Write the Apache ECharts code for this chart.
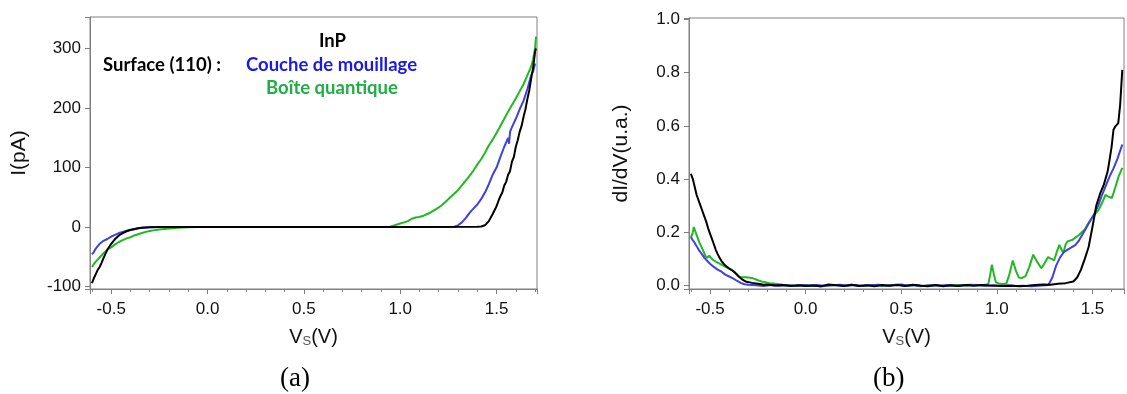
<!DOCTYPE html>
<html><head><meta charset="utf-8">
<script src="https://cdn.jsdelivr.net/npm/echarts@6/dist/echarts.min.js"></script>
<style>html,body{margin:0;padding:0;background:#fff;}#c{width:1127px;height:394px;}</style>
</head><body><div id="c"></div>
<script>
// ---------- Panel (a): I(V) ----------
const aBlackV = [-0.60,-0.59,-0.58,-0.57,-0.56,-0.55,-0.54,-0.53,-0.52,-0.50,-0.48,-0.46,-0.44,-0.42,-0.40,-0.38,-0.36,-0.34,-0.32,-0.30,-0.25,0.0,0.5,1.0,1.40,1.42,1.44,1.46,1.48,1.50,1.51,1.52,1.53,1.54,1.55,1.56,1.57,1.58,1.59,1.60,1.61,1.62,1.63,1.64,1.65,1.66,1.67,1.68,1.69,1.70,1.705];
const aBlackI = [-94,-86,-79,-72,-67,-60,-52,-45,-38,-28,-20,-14,-10,-7,-5,-3.5,-2,-1.2,-0.6,-0.3,0,0,0,0,0.5,1,3,10,22,35,44,52,58,70,76,88,94,110,118,135,146,160,170,185,198,215,230,250,268,295,300];
const aBlueV = [-0.60,-0.59,-0.58,-0.57,-0.56,-0.54,-0.52,-0.50,-0.48,-0.46,-0.44,-0.42,-0.40,-0.38,-0.36,-0.34,-0.30,-0.25,0.0,0.5,1.0,1.26,1.28,1.30,1.32,1.34,1.36,1.38,1.40,1.42,1.44,1.46,1.48,1.50,1.52,1.54,1.56,1.565,1.57,1.58,1.60,1.62,1.64,1.66,1.68,1.69,1.70];
const aBlueI = [-46,-42,-36,-32,-28,-23,-20,-16,-13,-10,-8,-6,-4.5,-3,-1.8,-1,-0.3,0,0,0,0,0,0.5,3,8,15,24,31,38,47,58,72,88,100,118,135,150,140,160,168,182,198,212,232,255,262,275];
const aGreenV = [-0.60,-0.59,-0.58,-0.57,-0.56,-0.54,-0.52,-0.50,-0.48,-0.46,-0.44,-0.42,-0.40,-0.38,-0.36,-0.34,-0.32,-0.30,-0.28,-0.26,-0.24,-0.22,-0.20,-0.18,-0.15,-0.10,-0.05,0.5,0.94,0.96,0.98,1.00,1.02,1.04,1.06,1.08,1.10,1.12,1.14,1.16,1.18,1.20,1.22,1.24,1.26,1.28,1.30,1.32,1.34,1.36,1.38,1.40,1.42,1.44,1.46,1.48,1.50,1.52,1.54,1.56,1.58,1.60,1.62,1.64,1.66,1.68,1.69,1.70,1.705];
const aGreenI = [-67,-62,-58,-55,-51,-44,-38,-34,-29,-25,-22,-19,-17,-14,-12,-10,-8,-6.5,-5.5,-4.5,-3.5,-3,-2.5,-1.8,-1,-0.4,0,0,0,2,4,6,8,10,14,16,17,19,22,25,29,33,38,44,50,56,62,70,78,86,95,105,114,125,137,147,158,170,182,194,205,216,228,240,255,270,282,300,320];

// ---------- Panel (b): dI/dV ----------
const bBlackV = [-0.60,-0.59,-0.58,-0.57,-0.56,-0.55,-0.54,-0.53,-0.52,-0.51,-0.50,-0.49,-0.48,-0.47,-0.46,-0.45,-0.44,-0.43,-0.42,-0.41,-0.40,-0.39,-0.38,-0.37,-0.36,-0.35,-0.34,-0.33,-0.32,-0.31,-0.30,-0.28,-0.26,-0.24,-0.22,-0.20,-0.18,-0.16,-0.12,-0.08,-0.04,0.00,0.04,0.08,0.12,0.16,0.20,0.24,0.28,0.32,0.36,0.40,0.44,0.48,0.52,0.56,0.60,0.64,0.68,0.72,0.76,0.80,0.84,0.88,0.92,0.96,1.00,1.04,1.08,1.12,1.16,1.20,1.24,1.28,1.32,1.36,1.40,1.42,1.44,1.46,1.48,1.50,1.52,1.54,1.56,1.58,1.60,1.61,1.62,1.635,1.645,1.656];
const bBlackD = [0.42,0.40,0.37,0.34,0.32,0.30,0.28,0.26,0.24,0.215,0.195,0.175,0.155,0.134,0.118,0.104,0.092,0.083,0.075,0.068,0.064,0.061,0.055,0.049,0.042,0.034,0.028,0.022,0.017,0.014,0.012,0.010,0.008,0.006,0.003,0.004,0.002,0.000,0.002,-0.002,0.001,-0.002,0.000,-0.003,0.004,0.001,-0.002,0.003,-0.002,0.001,-0.003,0.002,-0.001,0.002,-0.002,0.003,-0.001,-0.003,0.002,-0.003,0.001,-0.002,0.002,-0.001,0.002,0.000,-0.001,-0.002,-0.001,-0.003,-0.001,0.002,0.004,0.003,0.007,0.009,0.015,0.03,0.06,0.10,0.145,0.22,0.30,0.345,0.38,0.43,0.52,0.585,0.598,0.61,0.68,0.81];
const bBlueV = [-0.60,-0.59,-0.58,-0.57,-0.56,-0.55,-0.54,-0.53,-0.52,-0.51,-0.50,-0.49,-0.48,-0.47,-0.46,-0.45,-0.44,-0.43,-0.42,-0.41,-0.40,-0.39,-0.38,-0.37,-0.36,-0.35,-0.34,-0.33,-0.32,-0.30,-0.26,-0.22,-0.18,-0.14,-0.10,-0.06,-0.02,0.02,0.06,0.10,0.14,0.18,0.22,0.26,0.30,0.34,0.38,0.42,0.46,0.50,0.54,0.58,0.62,0.66,0.70,0.74,0.78,0.82,0.86,0.90,0.94,0.98,1.02,1.06,1.10,1.14,1.18,1.22,1.27,1.29,1.31,1.33,1.35,1.37,1.39,1.41,1.43,1.45,1.47,1.49,1.51,1.53,1.55,1.57,1.59,1.61,1.63,1.656];
const bBlueD = [0.182,0.17,0.16,0.148,0.135,0.125,0.115,0.105,0.097,0.09,0.082,0.076,0.07,0.065,0.06,0.056,0.052,0.047,0.041,0.037,0.034,0.03,0.027,0.023,0.018,0.014,0.01,0.007,0.005,0.003,0.001,-0.002,0.002,-0.001,0.001,-0.002,0.002,-0.001,0.002,-0.002,0.001,0.003,-0.001,0.002,-0.002,0.001,0.003,-0.001,0.002,0.004,-0.001,0.002,-0.002,0.001,-0.001,0.002,-0.002,0.001,0.003,0.002,-0.001,0.001,-0.002,0.001,-0.002,-0.001,-0.003,-0.001,0.002,0.03,0.075,0.105,0.125,0.135,0.143,0.152,0.17,0.195,0.22,0.245,0.27,0.30,0.34,0.375,0.41,0.44,0.475,0.53];
const bGreenV = [-0.60,-0.59,-0.585,-0.575,-0.565,-0.555,-0.545,-0.535,-0.525,-0.515,-0.505,-0.495,-0.485,-0.47,-0.45,-0.43,-0.41,-0.39,-0.37,-0.36,-0.35,-0.34,-0.33,-0.31,-0.29,-0.27,-0.25,-0.23,-0.21,-0.19,-0.17,-0.15,-0.12,-0.08,-0.04,0.00,0.04,0.08,0.12,0.16,0.20,0.24,0.28,0.32,0.36,0.40,0.44,0.48,0.52,0.56,0.60,0.64,0.68,0.72,0.76,0.80,0.84,0.88,0.92,0.955,0.965,0.974,0.985,0.995,1.01,1.03,1.05,1.065,1.083,1.10,1.115,1.13,1.15,1.17,1.19,1.21,1.233,1.25,1.268,1.285,1.30,1.315,1.327,1.338,1.348,1.36,1.37,1.38,1.396,1.41,1.43,1.448,1.46,1.475,1.49,1.51,1.533,1.55,1.568,1.58,1.602,1.62,1.637,1.656];
const bGreenD = [0.18,0.20,0.22,0.215,0.18,0.16,0.145,0.13,0.112,0.104,0.112,0.105,0.097,0.09,0.082,0.075,0.067,0.06,0.05,0.04,0.034,0.031,0.032,0.031,0.029,0.026,0.02,0.015,0.012,0.009,0.008,0.006,0.003,0.001,-0.002,0.002,0.000,-0.004,0.001,0.002,-0.001,0.003,-0.002,0.001,0.002,-0.002,0.001,0.003,-0.001,0.002,-0.003,0.001,0.002,-0.002,0.001,0.002,-0.001,0.002,0.001,0.005,0.04,0.078,0.04,0.012,0.008,0.006,0.008,0.04,0.094,0.055,0.03,0.028,0.035,0.07,0.116,0.09,0.065,0.085,0.107,0.10,0.095,0.13,0.153,0.135,0.122,0.155,0.166,0.165,0.172,0.18,0.19,0.203,0.21,0.23,0.247,0.265,0.285,0.31,0.341,0.335,0.329,0.37,0.41,0.442];

const xTicks = [-0.5, 0.0, 0.5, 1.0, 1.5];

const BLACK = '#000000', BLUE = '#4040e0', GREEN = '#22b822';
const AX = '#808080';
const pair = (xs, ys) => xs.map((x, i) => [x, ys[i]]);

const near = (v, step) => Math.abs(v / step - Math.round(v / step)) < 1e-6;
function xAxisCfg(gi, min, max) {
  return {
    type: 'value', gridIndex: gi, min: min, max: max, splitNumber: 5,
    axisLine: { onZero: false, lineStyle: { color: AX, width: 1 } },
    axisTick: { show: true, length: 5, lineStyle: { color: AX } },
    minorTick: { show: true, splitNumber: 5, length: 3, lineStyle: { color: AX } },
    splitLine: { show: false },
    axisLabel: { color: '#111', fontSize: 17, fontFamily: 'Liberation Sans', margin: 12,
      formatter: v => (xTicks.some(t => Math.abs(t - v) < 1e-6) ? v.toFixed(1) : '') },
    name: '{a|V}{s|S}{a|(V)}', nameLocation: 'middle', nameGap: 37,
    nameTextStyle: { rich: {
      a: { fontSize: 20, fontFamily: 'Liberation Sans', color: '#111' },
      s: { fontSize: 13, fontFamily: 'Liberation Sans', color: '#555', padding: [9, 0, 0, 0] } } }
  };
}

const option = {
  animation: false,
  backgroundColor: '#fff',
  grid: [
    { left: 90, top: 17, width: 447, height: 272, show: true, borderColor: AX, borderWidth: 1, backgroundColor: 'transparent' },
    { left: 689, top: 18, width: 440, height: 271, show: true, borderColor: AX, borderWidth: 1, backgroundColor: 'transparent' }
  ],
  xAxis: [ xAxisCfg(0, -0.61, 1.71), xAxisCfg(1, -0.61, 1.665) ],
  yAxis: [
    { type: 'value', gridIndex: 0, min: -104, max: 353, splitNumber: 5,
      axisLine: { show: true, onZero: false, lineStyle: { color: AX } },
      axisTick: { show: true, length: 5, lineStyle: { color: AX } },
      splitLine: { show: false },
      axisLabel: { color: '#111', fontSize: 17, fontFamily: 'Liberation Sans', margin: 9,
        formatter: v => (near(v, 100) ? String(Math.round(v)) : '') },
      name: 'I(pA)', nameLocation: 'middle', nameGap: 60,
      nameTextStyle: { fontSize: 21, fontFamily: 'Liberation Sans', color: '#111' } },
    { type: 'value', gridIndex: 1, min: -0.013, max: 1.005, splitNumber: 5,
      axisLine: { show: true, onZero: false, lineStyle: { color: AX } },
      axisTick: { show: true, length: 5, lineStyle: { color: AX } },
      splitLine: { show: false },
      axisLabel: { color: '#111', fontSize: 17, fontFamily: 'Liberation Sans', margin: 9,
        formatter: v => (near(v, 0.2) ? v.toFixed(1) : '') },
      name: 'dI/dV(u.a.)', nameLocation: 'middle', nameGap: 57,
      nameTextStyle: { fontSize: 21, fontFamily: 'Liberation Sans', color: '#111' } }
  ],
  series: [
    { type: 'line', xAxisIndex: 0, yAxisIndex: 0, data: pair(aGreenV, aGreenI), showSymbol: false, lineStyle: { color: GREEN, width: 2 } },
    { type: 'line', xAxisIndex: 0, yAxisIndex: 0, data: pair(aBlueV, aBlueI), showSymbol: false, lineStyle: { color: BLUE, width: 2 } },
    { type: 'line', xAxisIndex: 0, yAxisIndex: 0, data: pair(aBlackV, aBlackI), showSymbol: false, lineStyle: { color: BLACK, width: 2 } },
    { type: 'line', xAxisIndex: 1, yAxisIndex: 1, data: pair(bGreenV, bGreenD), showSymbol: false, lineStyle: { color: GREEN, width: 2 } },
    { type: 'line', xAxisIndex: 1, yAxisIndex: 1, data: pair(bBlueV, bBlueD), showSymbol: false, lineStyle: { color: BLUE, width: 2 } },
    { type: 'line', xAxisIndex: 1, yAxisIndex: 1, data: pair(bBlackV, bBlackD), showSymbol: false, lineStyle: { color: BLACK, width: 2 } }
  ],
  graphic: [
    { type: 'text', left: 319, top: 32, style: { text: 'InP', font: 'bold 18.5px Lato', fill: '#000' } },
    { type: 'text', left: 103, top: 56, style: { text: 'Surface (110) :', font: 'bold 18.5px Lato', fill: '#000' } },
    { type: 'text', left: 246, top: 56, style: { text: 'Couche de mouillage', font: 'bold 18.5px Lato', fill: '#1a1ae8' } },
    { type: 'text', left: 266, top: 79, style: { text: 'Boîte quantique', font: 'bold 18.5px Lato', fill: '#1fae45' } },
    { type: 'text', left: 280, top: 365, style: { text: '(a)', font: '27px "Liberation Serif"', fill: '#000' } },
    { type: 'text', left: 873, top: 365, style: { text: '(b)', font: '27px "Liberation Serif"', fill: '#000' } }
  ]
};
const chart = echarts.init(document.getElementById('c'), null, { renderer: 'canvas' });
chart.setOption(option);
</script>
</body></html>
